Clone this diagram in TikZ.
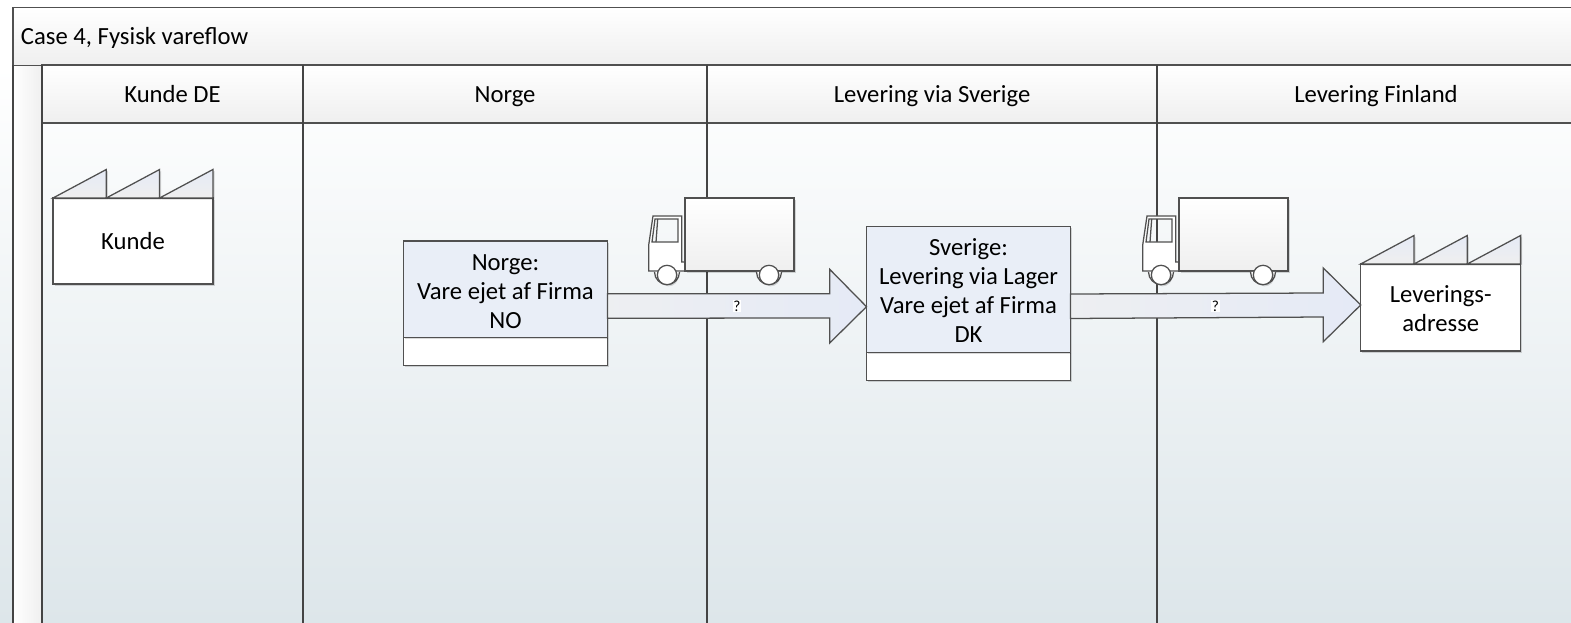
\documentclass[tikz,border=0pt]{standalone}
\usepackage{fontspec}
\setmainfont{Carlito}
\usetikzlibrary{calc,shadows}
\definecolor{linec}{HTML}{505050}
\definecolor{laneline}{HTML}{444444}
\definecolor{bluef}{HTML}{E9EEF7}
\definecolor{greyf}{HTML}{EFEFEF}
\definecolor{bluetip}{HTML}{E5EAF6}
\definecolor{bottomc}{HTML}{DDE6EA}
\def\px{0.75pt}
\newcommand{\st}{\rule[-0.2em]{0pt}{1.05em}}
\newcommand{\sttop}[1]{\rule[-0.2em]{0pt}{\dimexpr1.05em+#1\relax}}
\newcommand{\truck}[1]{%
  \begin{scope}[xshift=#1*0.75pt]
    \path[fill=white,draw=linec,ln,even odd rule]
      (648.7,271) -- (648.7,245) -- (653,216) -- (681.7,216) -- (681.7,262) -- (685,262) -- (685,271) -- cycle
      (652,242) -- (655,219) -- (678,219) -- (678,242) -- cycle;
    \draw[linec,ln] (657.7,219) -- (656,242);
    \path[draw=linec,ln,top color=white,bottom color=greyf,softshadow] (685,198) rectangle (794,271);
    \fill[white] (654.5,272) arc[start angle=180,end angle=0,radius=12.5] -- cycle;
    \fill[white] (756.5,272) arc[start angle=180,end angle=0,radius=12.5] -- cycle;
    \draw[linec,ln] (654.5,272) arc[start angle=180,end angle=0,radius=12.5];
    \draw[linec,ln] (756.5,272) arc[start angle=180,end angle=0,radius=12.5];
    \draw[linec,ln,fill=white,softshadow] (667,275) circle[radius=9.7];
    \draw[linec,ln,fill=white,softshadow] (769,275) circle[radius=9.7];
  \end{scope}}
\newcommand{\roof}[2]{%
  \path[draw=linec,ln,top color=bluetip,bottom color=greyf,softshadow]
    ($(#1.north west)+(#2,0)$) -- ($(#1.north west)+(#2+53.3,-28.5)$) -- ($(#1.north west)+(#2+53.3,0)$) -- cycle;}
\tikzset{
  x=0.75pt,y=-0.75pt,
  ln/.style={line width=0.95pt},
  softshadow/.style={drop shadow={shadow xshift=1.2pt,shadow yshift=-1.2pt,opacity=.15,fill=black}},
  txt/.style={font=\fontsize{18.5}{21.75}\selectfont,text=black,align=center,inner sep=0pt,outer sep=0pt},
  headbox/.style={txt,draw=linec,ln,rectangle,minimum height=58*\px,top color=white,bottom color=greyf},
  procbox/.style={txt,draw=linec,ln,rectangle,fill=bluef,minimum width=204*\px,softshadow},
  footbox/.style={draw=linec,ln,rectangle,fill=white,minimum width=204*\px,inner sep=0pt,outer sep=0pt,softshadow},
  factory/.style={txt,draw=linec,ln,rectangle,fill=white,minimum width=160*\px,softshadow},
  lanerule/.style={draw=laneline,line width=1.2pt},
  flow/.style={draw=linec,ln,left color=greyf!70!bluef,right color=bluetip},
  qmark/.style={font=\fontsize{11.5}{13}\selectfont,fill=white,text=black,inner sep=0.6pt},
}
\begin{document}
\begin{tikzpicture}
\clip (0,0) rectangle (1571,623);
\fill[white] (0,0) rectangle (1571,623);
% body background
\path[top color=white,bottom color=bottomc] (0,65) rectangle (1571,623);
% left strip
\path[left color=white,right color=greyf] (13,65) rectangle (42,623);
% title
\node[headbox,anchor=north west,minimum width=1590*\px] (title) at (13,7.5) {};
\node[txt,anchor=west] (titletext) at (21,36) {\st Case 4, Fysisk vareflow};
% lane headers
\node[headbox,anchor=north west,minimum width=261*\px] (h1) at (42,65) {\st Kunde DE};
\node[headbox,anchor=north west,minimum width=404*\px] (h2) at (303,65) {\st Norge};
\node[headbox,anchor=north west,minimum width=450*\px] (h3) at (707,65) {\st Levering via Sverige};
\node[headbox,anchor=north west,minimum width=438*\px] (h4) at (1157,65) {\st Levering Finland};
% lane rules
\coordinate (bl0) at (13,623);
\coordinate (bl1) at (42,623);
\coordinate (bl2) at (303,623);
\coordinate (bl3) at (707,623);
\coordinate (bl4) at (1157,623);
\draw[lanerule] (title.south west) -- (bl0);
\draw[lanerule] (h1.north west) -- (bl1);
\draw[lanerule] (h2.north west) -- (bl2);
\draw[lanerule] (h3.north west) -- (bl3);
\draw[lanerule] (h4.north west) -- (bl4);
% factories
\node[factory,anchor=north west,minimum height=86*\px] (kunde) at (53,198) {\sttop{0.75pt}Kunde};
\roof{kunde}{0}\roof{kunde}{53.3}\roof{kunde}{106.6}
\node[factory,anchor=north west,minimum height=87*\px] (lever) at (1360.7,264) {\sttop{2.25pt}Leverings-\\\st adresse};
\roof{lever}{0}\roof{lever}{53.3}\roof{lever}{106.6}
% trucks
\truck{0}
\truck{494}
% process boxes
\node[footbox,anchor=north west,minimum height=28*\px] (nofoot) at (403.5,337.5) {};
\node[procbox,anchor=north west,minimum height=96.5*\px] (no) at (403.5,241) {\sttop{3.75pt}Norge:\\\st Vare ejet af Firma\\\st NO};
\node[footbox,anchor=north west,minimum height=28*\px] (sefoot) at (866.5,352.5) {};
\node[procbox,anchor=north west,minimum height=126*\px] (se) at (866.5,226.5) {\sttop{1.5pt}Sverige:\\\st Levering via Lager\\\st Vare ejet af Firma\\\st DK};
% flow arrows
\path[flow] ($(no.east)+(0,4.5)$) -- ($(se.west)+(-36.8,4.2)$) -- ($(se.west)+(-36.8,-20.2)$) -- ($(se.west)+(0,17.2)$)
  -- ($(se.west)+(-36.8,53.5)$) -- ($(se.west)+(-36.8,28.5)$) -- ($(no.east)+(0,29)$) -- cycle;
\path[flow] ($(se.east)+(0,4.5)$) -- ($(lever.west)+(-37.4,-14.5)$) -- ($(lever.west)+(-37.4,-39.5)$) -- (lever.west |- 0,305)
  -- ($(lever.west)+(-37.4,34.2)$) -- ($(lever.west)+(-37.4,9.5)$) -- ($(se.east)+(0,29)$) -- cycle;
\node[qmark] (q1) at (737,306) {?};
\node[qmark] (q2) at (1215.5,306) {?};
\end{tikzpicture}
\end{document}
